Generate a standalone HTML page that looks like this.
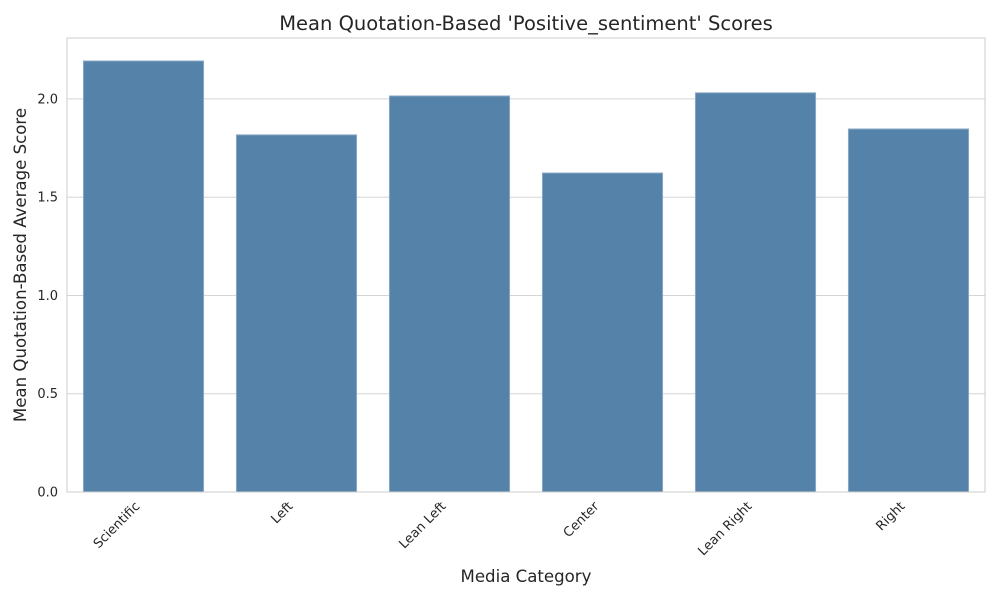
<!DOCTYPE html>
<html><head><meta charset="utf-8"><style>body{margin:0;background:#fff}svg{display:block;font-family:"DejaVu Sans","Liberation Sans",sans-serif}</style></head>
<body>
<svg id="chart" width="1000" height="600"></svg>
<script>
const categories=["Scientific","Left","Lean Left","Center","Lean Right","Right"];
const values=[2.193,1.817,2.015,1.623,2.031,1.847];
const yTicks=[0,0.5,1.0,1.5,2.0];
const yTickLabels=["0.0","0.5","1.0","1.5","2.0"];
const NS="http://www.w3.org/2000/svg";
const svg=document.getElementById('chart');
const L=67,R=985,T=38,B=492,ymax=2.31;
const y=v=>B-v/ymax*(B-T);
const band=(R-L)/categories.length;
const x=i=>L+band*(i+0.5);
function mk(tag,attrs,text){const e=document.createElementNS(NS,tag);for(const k in attrs)e.setAttribute(k,attrs[k]);if(text!=null)e.textContent=text;svg.appendChild(e);return e;}
yTicks.forEach((t,i)=>{
 const g=mk('line',{x1:L,x2:R,y1:y(t),y2:y(t),stroke:'#d5d5d5','stroke-width':1});
 
 
 const lb=mk('text',{x:L-9,y:y(t)+4.5,'text-anchor':'end','font-size':13,fill:'#262626'},yTickLabels[i]);
 
 
});
categories.forEach((c,i)=>{
 const w=band*0.785;
 const b=mk('rect',{x:x(i)-w/2,y:y(values[i]),width:w,height:B-y(values[i]),fill:'#5482a9',stroke:'#8aa9c6','stroke-width':1});
 
 
 const ax=x(i)-3, ay=B+15;
 const lb=mk('text',{x:ax,y:ay,'text-anchor':'end','font-size':13,fill:'#262626',transform:`rotate(-45 ${ax} ${ay})`},c);
 
 
});
const fr=mk('rect',{x:L,y:T,width:R-L,height:B-T,fill:'none',stroke:'#cccccc','stroke-width':1});


const ti=mk('text',{x:(L+R)/2,y:30,'text-anchor':'middle','font-size':19.5,fill:'#262626'},"Mean Quotation-Based 'Positive_sentiment' Scores");


const xl=mk('text',{x:(L+R)/2,y:582,'text-anchor':'middle','font-size':16.6,fill:'#262626'},"Media Category");


const yl=mk('text',{x:26,y:(T+B)/2,'text-anchor':'middle','font-size':16.6,fill:'#262626',transform:`rotate(-90 26 ${(T+B)/2})`},"Mean Quotation-Based Average Score");


</script>
</body></html>
